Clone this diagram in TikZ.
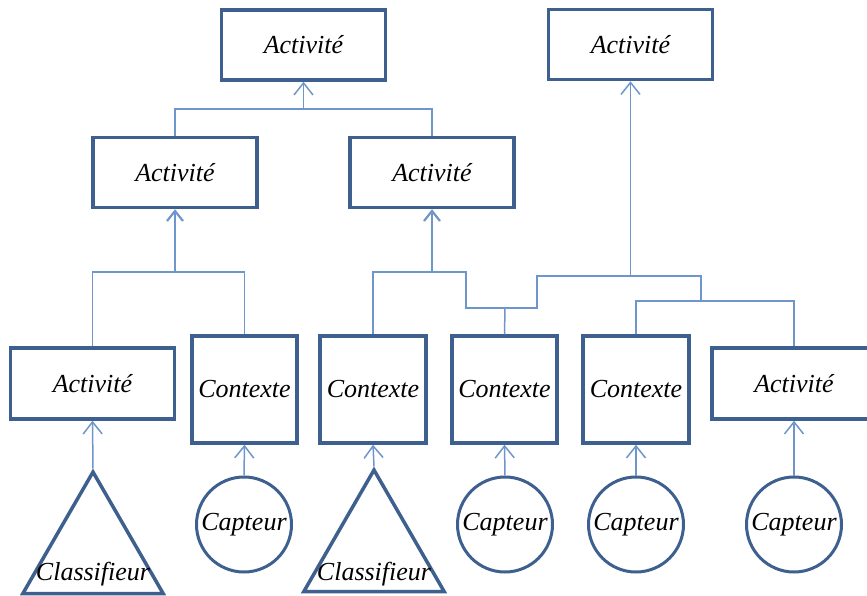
\documentclass[tikz,border=0pt]{standalone}
\usepackage{fontspec}
\setmainfont{Liberation Serif}
\usetikzlibrary{arrows.meta,shapes.geometric}
\definecolor{boxc}{RGB}{62,96,142}
\definecolor{linec}{RGB}{110,150,202}
\tikzset{
  txt/.style={font=\fontsize{26}{30}\selectfont\itshape, text=black},
  box/.style={draw=boxc, line width=3.5pt, rectangle, inner sep=0pt, txt},
  actbox/.style={box, minimum width=164pt, minimum height=70pt},
  ctxbox/.style={box, minimum width=105pt, minimum height=107pt},
  capt/.style={draw=boxc, line width=3pt, circle, minimum size=95pt, inner sep=0pt, txt},
  tri/.style={draw=boxc, line width=3.5pt, regular polygon, regular polygon sides=3, minimum size=162pt, inner sep=0pt},
  ln/.style={draw=linec, line width=1.5pt},
  arr/.style={ln, -{Straight Barb[length=12pt,width=19pt]}},
  arrb/.style={ln, line width=2.2pt, -{Straight Barb[length=10pt,width=16pt]}}
}
\begin{document}
\begin{tikzpicture}[x=1pt,y=-1pt]
\useasboundingbox (0,0) rectangle (867,596);
% nodes
\node[actbox] (t1) at (303.5,45) {Activité};
\node[actbox] (t2) at (630.5,44.5) {Activité};
\node[actbox] (m1) at (175,172.5) {Activité};
\node[actbox] (m2) at (432,172.5) {Activité};
\node[actbox, minimum height=71pt] (a1) at (92.5,383.5) {Activité};
\node[ctxbox] (c1) at (244.5,389.5) {Contexte};
\node[ctxbox, minimum width=106pt] (c2) at (373,389.5) {Contexte};
\node[ctxbox] (c3) at (504.5,389.5) {Contexte};
\node[ctxbox, minimum width=106pt] (c4) at (636,389.5) {Contexte};
\node[actbox, minimum height=71pt] (a2) at (794,383.5) {Activité};
\node[capt] (p1) at (244,524.5) {Capteur};
\node[capt] (p3) at (505,524.5) {Capteur};
\node[capt] (p4) at (636,524.5) {Capteur};
\node[capt] (p5) at (794,524.5) {Capteur};
\node[tri] (r1) at (93,553) {};
\node[txt] (r1t) at (93,574) {Classifieur};
\node[tri] (r2) at (374,551) {};
\node[txt] (r2t) at (374,574) {Classifieur};
% junction points
\coordinate (jt) at (303.5,109);
\coordinate (j1) at (175,272);
\coordinate (j2) at (432,272);
\coordinate (s1) at (466,272);
\coordinate (s2) at (466,308);
\coordinate (s3) at (505,308);
\coordinate (s4) at (537,308);
\coordinate (s5) at (537,276);
\coordinate (jr) at (630.5,276);
\coordinate (s6) at (701,276);
\coordinate (s7) at (701,301);
\coordinate (s8) at (636,301);
\coordinate (s9) at (794,301);
% connectors
\draw[ln] (m1.north) |- (jt) -| (m2.north);
\draw[arr] (jt) -- (t1.south);
\draw[ln] (a1.north) |- (j1) -| (c1.north);
\draw[arrb] (j1) -- (m1.south);
\draw[ln] (c2.north) |- (s1) -- (s2) -- (s4) -- (s5) -- (s6) -- (s7);
\draw[arrb] (j2) -- (m2.south);
\draw[ln] (s3) -- (c3.north);
\draw[arr] (jr) -- (t2.south);
\draw[ln] (c4.north) |- (s9) -- (a2.north);
% bottom arrows
\draw[arr] (r1.corner 1) -- (a1.south);
\draw[arr] (p1.north) -- (c1.south);
\draw[arr] (r2.corner 1) -- (c2.south);
\draw[arr] (p3.north) -- (c3.south);
\draw[arr] (p4.north) -- (c4.south);
\draw[arr] (p5.north) -- (a2.south);
\end{tikzpicture}
\end{document}
